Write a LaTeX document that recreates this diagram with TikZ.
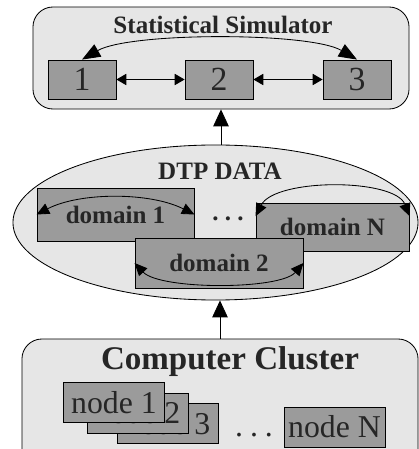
\documentclass[tikz,border=0pt]{standalone}
\usepackage{fontspec}
\setmainfont{Liberation Serif}
\usetikzlibrary{arrows.meta,shapes.geometric}

\definecolor{panelgray}{HTML}{E6E6E6}
\definecolor{blockgray}{HTML}{9B9B9B}

\begin{document}
\begin{tikzpicture}[x=0.025cm,y=0.025cm,line width=0.6pt,text=black!85,
    panel/.style={draw,fill=panelgray,rounded corners=0.5cm,inner sep=0pt},
    block/.style={draw,fill=blockgray,inner sep=0pt},
    heading/.style={font=\fontsize{17.8}{20}\selectfont\bfseries},
    link/.style={{Triangle[length=7pt,width=8pt]}-{Triangle[length=7pt,width=8pt]}},
    wrap/.style={{Triangle[length=9pt,width=8pt]}-{Triangle[length=9pt,width=8pt]}},
    bow/.style={{Triangle[length=13pt,width=10pt]}-{Triangle[length=13pt,width=10pt]}},
    feed/.style={-{Triangle[length=12pt,width=11pt]}}]
  \clip (0,0) rectangle (419,449);

  % simulator on top
  \node[panel,minimum width=9.4cm,minimum height=2.55cm] (sim) at (221,391) {};
  \node[heading] (simtitle) at (223,424.5) {Statistical Simulator};
  \foreach \i/\x in {1/82,2/219,3/357}
    \node[block,minimum width=1.7cm,minimum height=0.975cm,
      font=\fontsize{24}{26}\selectfont] (b\i) at (\x,369.5) {\i};
  \draw[link] (b1) -- (b2);
  \draw[link] (b2) -- (b3);
  \draw[bow] (b1.north) .. controls (130,417) and (310,417) .. (b3.north);

  % data in the middle
  \node[ellipse,draw,fill=panelgray,inner sep=0pt,
    minimum width=10.125cm,minimum height=3.875cm] (data) at (215.5,226.5) {};
  \node[heading] (datatitle) at (220,278) {DTP DATA};
  \node[heading] (ddots) at (228,230.5) {.\hspace{4.5pt}.\hspace{4.5pt}.};
  \node[block,heading,minimum width=3.925cm,minimum height=1.325cm] (d1) at (115.5,234.5) {domain 1};
  \node[block,heading,minimum width=3.825cm,minimum height=1.2cm] (dN) at (332.5,222) {domain N};
  \node[block,heading,minimum width=4.2cm,minimum height=1.25cm] (d2) at (219,186) {domain 2};
  \draw[wrap] (d1.west) .. controls (80,257) and (150,257) .. (d1.east);
  \draw[wrap] (dN.172) .. controls (275,271) and (395,271) .. (dN.8);
  \draw[wrap] (d2.west) .. controls (160,159) and (280,159) .. (d2.east);
  \draw[feed] (data.north -| sim.south) -- (sim.south);

  % cluster at the bottom
  \node[panel,minimum width=9.9cm,minimum height=3.25cm] (cluster) at (220,45) {};
  \node[font=\fontsize{23.5}{26}\selectfont\bfseries] (clustertitle) at (230,87) {Computer Cluster};
  \tikzset{host/.style={block,minimum width=2.525cm,minimum height=1cm,
      font=\fontsize{22.6}{25}\selectfont}}
  \node[host] (n3) at (167.5,25.5) {node 3};
  \node[host] (n2) at (137.5,36) {node 2};
  \node[host] (n1) at (114,46.5) {node 1};
  \node[host] (nN) at (334.5,22) {node N};
  \node[font=\fontsize{22.6}{25}\selectfont] (ndots) at (254,14) {.\hspace{5pt}.\hspace{5pt}.};
  \draw[feed] (cluster.north) -- (cluster.north |- data.south);
\end{tikzpicture}
\end{document}
